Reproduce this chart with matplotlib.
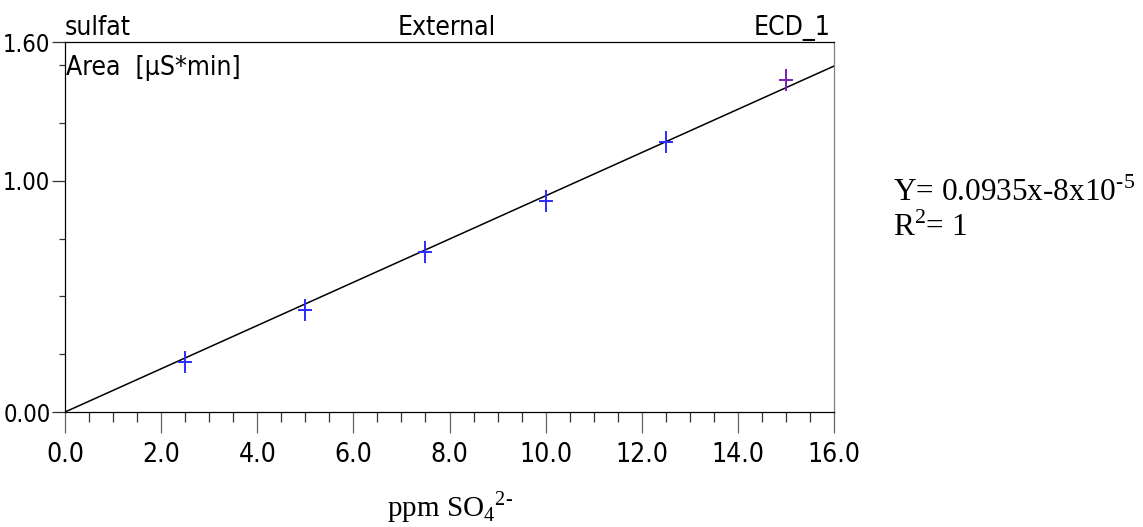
import numpy as np
import matplotlib
matplotlib.use("Agg")
import matplotlib.pyplot as plt
from matplotlib.ticker import FixedLocator
from matplotlib import font_manager

# calibration data (sulfate standards)
conc = [2.5, 5.0, 7.5, 10.0, 12.5, 15.0]
area = [0.215, 0.441, 0.691, 0.914, 1.166, 1.437]
point_colors = ["#2b2bff", "#2b2bff", "#2b2bff", "#2b2bff", "#2b2bff", "#7a1fb5"]

slope = 0.0935
intercept = -8e-5

x_major = [0, 2, 4, 6, 8, 10, 12, 14, 16]
x_minor = np.arange(0, 16.01, 0.5)
x_labels = ["0.0", "2.0", "4.0", "6.0", "8.0", "10.0", "12.0", "14.0", "16.0"]
y_major = [0.0, 1.0, 1.6]
y_minor = [0.25, 0.5, 0.75, 1.25, 1.5]
y_labels = ["0.00", "1.00", "1.60"]

# pick a narrow sans face if one is installed
narrow = None
for f in font_manager.fontManager.ttflist:
    fn = f.fname.lower()
    if ("narrow" in fn or "condensed" in fn) and "bold" not in fn and "oblique" not in fn and "italic" not in fn:
        narrow = f
        break
if narrow is not None:
    sans = dict(fontproperties=font_manager.FontProperties(fname=narrow.fname, size=19))
    tick_font = font_manager.FontProperties(fname=narrow.fname, size=19)
    ytick_font = font_manager.FontProperties(fname=narrow.fname, size=17)
else:
    sans = dict(family="Liberation Sans", fontsize=15)
    tick_font = font_manager.FontProperties(family="Liberation Sans", size=15)
    ytick_font = font_manager.FontProperties(family="Liberation Sans", size=13)

SERIF = ["Liberation Serif", "DejaVu Serif"]
plt.rcParams["mathtext.fontset"] = "custom"
plt.rcParams["mathtext.rm"] = "Liberation Serif"

W, H = 1143, 527
fig = plt.figure(figsize=(W / 100, H / 100), dpi=100)
ax = fig.add_axes([65 / W, 1 - 412 / H, (834 - 65) / W, (412 - 42) / H])

# fitted line
xf = np.array([0.0, 16.0])
ax.plot(xf, slope * xf + intercept, color="black", lw=1.1, zorder=2)

# measured points: tall thin crosses
for xi, yi, c in zip(conc, area, point_colors):
    ax.plot(xi, yi, marker="|", ms=16, mew=1.4, color=c, zorder=3)
    ax.plot(xi, yi, marker="_", ms=9.5, mew=1.4, color=c, zorder=3)

ax.set_xlim(0, 16)
ax.set_ylim(0, 1.6)

ax.xaxis.set_major_locator(FixedLocator(x_major))
ax.xaxis.set_minor_locator(FixedLocator(x_minor))
ax.set_xticklabels(x_labels, fontproperties=tick_font)
ax.yaxis.set_major_locator(FixedLocator(y_major))
ax.yaxis.set_minor_locator(FixedLocator(y_minor))
ax.set_yticklabels(y_labels, fontproperties=ytick_font)

ax.tick_params(axis="x", which="major", length=15, width=0.9, color="#666666", pad=6.5)
ax.tick_params(axis="x", which="minor", length=7.2, width=0.9, color="#333333")
ax.tick_params(axis="y", which="major", length=9.5, width=0.9, color="#333333", pad=1)
ax.tick_params(axis="y", which="minor", length=4.3, width=0.9, color="#333333")

for side in ["left", "bottom", "top"]:
    ax.spines[side].set_color("black")
    ax.spines[side].set_linewidth(0.9)
ax.spines["right"].set_color("#808080")
ax.spines["right"].set_linewidth(0.9)

# header texts
fig.text(65 / W, 1 - 35 / H, "sulfat", ha="left", va="baseline", **sans)
fig.text(447 / W, 1 - 35 / H, "External", ha="center", va="baseline", **sans)
fig.text(830 / W, 1 - 35 / H, "ECD_1", ha="right", va="baseline", **sans)
fig.text(66 / W, 1 - 75 / H, "Area  [µS*min]", ha="left", va="baseline", **sans)

# axis label and regression equation
fig.text(450 / W, 1 - 516 / H, r"ppm SO$_{\mathrm{4}}$$^{\text{2-}}$",
         family=SERIF, fontsize=21, ha="center", va="baseline")
fig.text(893 / W, 1 - 201 / H, r"Y= 0.0935x-8x10$^{\text{-5}}$",
         family=SERIF, fontsize=22.5, ha="left", va="baseline")
fig.text(893 / W, 1 - 236 / H, r"R$^{\mathrm{2}}$= 1",
         family=SERIF, fontsize=22.5, ha="left", va="baseline")

fig.savefig("out.png", dpi=100)
